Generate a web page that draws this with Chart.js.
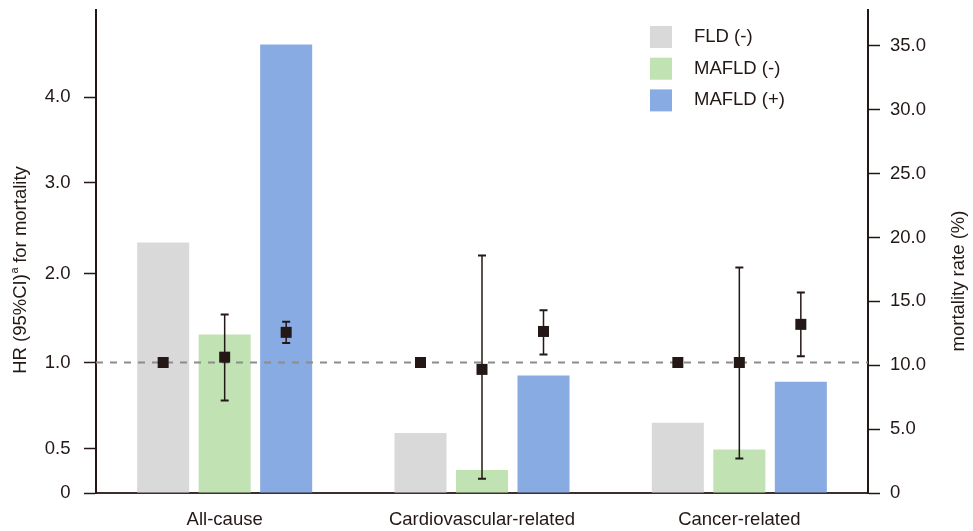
<!DOCTYPE html>
<html>
<head>
<meta charset="utf-8">
<script src="https://cdn.jsdelivr.net/npm/chart.js@4.4.1/dist/chart.umd.min.js"></script>
<style>
html, body { margin: 0; padding: 0; background: #fff; }
#wrap { width: 973px; height: 531px; position: relative; }
</style>
</head>
<body>
<div id="wrap"><canvas id="mortality-chart"></canvas></div>
<script>
const categories = ['All-cause', 'Cardiovascular-related', 'Cancer-related'];
const groupNames = ['FLD (-)', 'MAFLD (-)', 'MAFLD (+)'];
const groupColors = ['#d9d9d9', '#c1e2b3', '#89abe3'];

// mortality rate (%) -> right axis, bars
const fldRate = [19.6, 4.7, 5.5];
const mafldNegRate = [12.4, 1.8, 3.4];
const mafldPosRate = [35.1, 9.2, 8.7];

// HR (95%CI) -> left axis, squares with whiskers
const fldHR = [1.0, 1.0, 1.0];
const mafldNegHR = [1.06, 0.96, 1.0];
const mafldNegLow = [0.78, 0.16, 0.39];
const mafldNegHigh = [1.54, 2.2, 2.07];
const mafldPosHR = [1.34, 1.35, 1.43];
const mafldPosLow = [1.22, 1.09, 1.07];
const mafldPosHigh = [1.46, 1.59, 1.79];

// left axis is not linear, so map HR onto it through these ticks
const hrTicks = [0, 0.5, 1, 2, 3, 4];
const hrTickLabels = ['0', '0.5', '1.0', '2.0', '3.0', '4.0'];
const hrTickPos = [0, 44.3, 130.5, 219.2, 310.5, 395.7];

const rateTicks = [0, 5, 10, 15, 20, 25, 30, 35];

const textColor = '#231815';
const fontFamily = "'Liberation Sans', Arial, sans-serif";

function hrToPos(hr) {
    let i = 1;
    while (i < hrTicks.length - 1 && hr > hrTicks[i]) i++;
    const h0 = hrTicks[i - 1], h1 = hrTicks[i];
    const p0 = hrTickPos[i - 1], p1 = hrTickPos[i];
    return p0 + (hr - h0) / (h1 - h0) * (p1 - p0);
}

const hrPlugin = {
    id: 'hrPlugin',
    afterDatasetsDraw(chart) {
        const ctx = chart.ctx;
        const area = chart.chartArea;
        const yL = chart.scales.y;

        // HR = 1 reference line
        const yOne = yL.getPixelForValue(hrToPos(1));
        ctx.save();
        ctx.strokeStyle = '#8c8c8c';
        ctx.lineWidth = 2;
        ctx.setLineDash([7, 7]);
        ctx.beginPath();
        ctx.moveTo(area.left, yOne);
        ctx.lineTo(area.right, yOne);
        ctx.stroke();
        ctx.setLineDash([]);

        const series = [
            { hr: fldHR },
            { hr: mafldNegHR, low: mafldNegLow, high: mafldNegHigh },
            { hr: mafldPosHR, low: mafldPosLow, high: mafldPosHigh }
        ];
        ctx.strokeStyle = textColor;
        ctx.fillStyle = textColor;
        series.forEach((s, di) => {
            const meta = chart.getDatasetMeta(di);
            meta.data.forEach((bar, i) => {
                const x = bar.x;
                if (s.low) {
                    const yl = yL.getPixelForValue(hrToPos(s.low[i]));
                    const yh = yL.getPixelForValue(hrToPos(s.high[i]));
                    ctx.lineWidth = 1.5;
                    ctx.beginPath();
                    ctx.moveTo(x, yl);
                    ctx.lineTo(x, yh);
                    ctx.stroke();
                    ctx.lineWidth = 2;
                    ctx.beginPath();
                    ctx.moveTo(x - 4, yl);
                    ctx.lineTo(x + 4, yl);
                    ctx.moveTo(x - 4, yh);
                    ctx.lineTo(x + 4, yh);
                    ctx.stroke();
                }
                const y = yL.getPixelForValue(hrToPos(s.hr[i]));
                ctx.fillRect(x - 5.5, y - 5.5, 11, 11);
            });
        });
        ctx.restore();
    },
    afterDraw(chart) {
        const ctx = chart.ctx;
        ctx.save();
        ctx.fillStyle = textColor;
        ctx.textBaseline = 'middle';

        // left title with superscript a
        const big = '18.5px ' + fontFamily;
        const small = '11px ' + fontFamily;
        ctx.font = big;
        const p1 = 'HR (95%CI)', p3 = ' for mortality';
        const w1 = ctx.measureText(p1).width;
        const w3 = ctx.measureText(p3).width;
        ctx.font = small;
        const w2 = ctx.measureText('a').width;
        const total = w1 + w2 + w3;
        ctx.translate(21, 270);
        ctx.rotate(-Math.PI / 2);
        ctx.textAlign = 'left';
        ctx.font = big;
        ctx.fillText(p1, -total / 2, 0);
        ctx.font = small;
        ctx.fillText('a', -total / 2 + w1 + 0.5, -6);
        ctx.font = big;
        ctx.fillText(p3, -total / 2 + w1 + w2, 0);
        ctx.setTransform(1, 0, 0, 1, 0, 0);

        // right title
        ctx.translate(959, 281);
        ctx.rotate(-Math.PI / 2);
        ctx.textAlign = 'center';
        ctx.fillText('mortality rate (%)', 0, 0);
        ctx.setTransform(1, 0, 0, 1, 0, 0);

        // legend
        ctx.textAlign = 'left';
        groupNames.forEach((name, i) => {
            const top = 26 + i * 31.7;
            ctx.fillStyle = groupColors[i];
            ctx.fillRect(650, top, 22, 22);
            ctx.fillStyle = textColor;
            ctx.fillText(name, 694, top + 11);
        });
        ctx.restore();
    }
};

const tickFont = { family: fontFamily, size: 18.5 };

function fixSide(width) {
    return function (s) {
        s.width = width;
        s.paddingTop = 0;
        s.paddingBottom = 0;
    };
}

new Chart(document.getElementById('mortality-chart').getContext('2d'), {
    type: 'bar',
    data: {
        labels: categories,
        datasets: [
            { label: groupNames[0], data: fldRate, backgroundColor: groupColors[0], yAxisID: 'yR' },
            { label: groupNames[1], data: mafldNegRate, backgroundColor: groupColors[1], yAxisID: 'yR' },
            { label: groupNames[2], data: mafldPosRate, backgroundColor: groupColors[2], yAxisID: 'yR' }
        ]
    },
    options: {
        responsive: true,
        maintainAspectRatio: false,
        animation: false,
        layout: { padding: { top: 10, left: 0, right: 0, bottom: 0 } },
        datasets: { bar: { categoryPercentage: 0.717, barPercentage: 0.846 } },
        plugins: { legend: { display: false }, tooltip: { enabled: false } },
        scales: {
            x: {
                z: 1,
                grid: { display: false, drawTicks: false },
                border: { display: true, color: '#3b302d', width: 2 },
                ticks: { color: textColor, font: tickFont, padding: 16 },
                afterFit(s) { s.height = 38; s.paddingLeft = 0; s.paddingRight = 0; }
            },
            y: {
                position: 'left',
                min: 0, max: 483,
                grid: { drawOnChartArea: false, tickLength: 12, tickColor: textColor, tickWidth: 1.5 },
                border: { color: textColor, width: 2 },
                afterBuildTicks(s) { s.ticks = hrTickPos.map(v => ({ value: v })); },
                ticks: {
                    color: textColor, font: tickFont, padding: 13.5,
                    callback: (v, i) => hrTickLabels[i]
                },
                afterFit: fixSide(96)
            },
            yR: {
                position: 'right',
                min: 0, max: 37.8,
                grid: { drawOnChartArea: false, tickLength: 12, tickColor: textColor, tickWidth: 1.5 },
                border: { color: textColor, width: 2 },
                afterBuildTicks(s) { s.ticks = rateTicks.map(v => ({ value: v })); },
                ticks: {
                    color: textColor, font: tickFont, padding: 10,
                    callback: v => v === 0 ? '0' : v.toFixed(1)
                },
                afterFit: fixSide(105)
            }
        }
    },
    plugins: [hrPlugin]
});
</script>
</body>
</html>
